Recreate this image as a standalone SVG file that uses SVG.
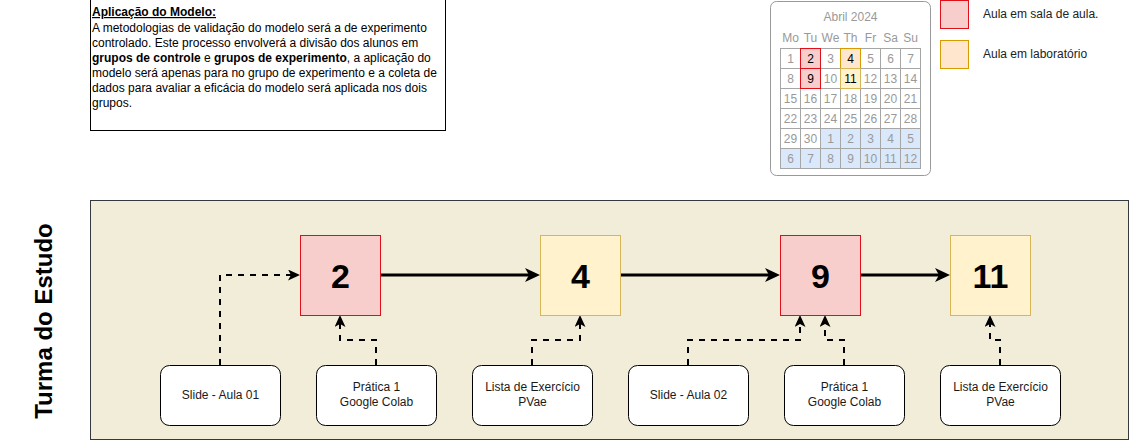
<svg xmlns="http://www.w3.org/2000/svg" width="1131" height="442" viewBox="0 0 1131 442">
  <style>
    .txt { font-family: "Liberation Sans", Arial, Helvetica, sans-serif; }
    .note { font-size: 12px; fill: #000; }
    .cal { font-size: 12px; fill: #999; text-anchor: middle; }
    .calDark { fill: #000; }
    .cell { fill: #fff; stroke: #a6a6a6; stroke-width: 1; }
    .next { fill: #dae8fc; stroke: #a6a6a6; stroke-width: 1; }
    .legend { font-size: 12px; fill: #222; }
    .day { stroke-width: 1; }
    .red { fill: #f8cecc; stroke: #e0101a; }
    .yellow { fill: #fff2cc; stroke: #d6b656; }
    .orange { fill: #ffe6cc; stroke: #d79b00; }
    .big { font-size: 34px; font-weight: bold; text-anchor: middle; fill: #000; }
    .res { fill: #fff; stroke: #000; stroke-width: 1; }
    .resText { font-size: 12px; text-anchor: middle; fill: #1a1a1a; }
    .flow { fill: none; stroke: #000; stroke-width: 3; marker-end: url(#arrowBig); }
    .link { fill: none; stroke: #000; stroke-width: 2; stroke-dasharray: 6 6; marker-end: url(#arrowSmall); }
  </style>
  <defs>
    <marker id="arrowBig" markerUnits="userSpaceOnUse" markerWidth="16" markerHeight="16" refX="4" refY="7" orient="auto">
      <path d="M0,0 L15,7 L0,14 L4,7 Z" fill="#000"/>
    </marker>
    <marker id="arrowSmall" markerUnits="userSpaceOnUse" markerWidth="14" markerHeight="14" refX="3" refY="5.5" orient="auto">
      <path d="M0,0 L12,5.5 L0,11 L3,5.5 Z" fill="#000"/>
    </marker>
  </defs>

  <rect width="1131" height="442" fill="#fff"/>

  <!-- Description note -->
  <g id="note" class="txt">
    <rect x="90.5" y="-0.5" width="355" height="131" fill="#fff" stroke="#000"/>
    <text class="note" x="92" y="16" font-weight="bold" text-decoration="underline">Aplicação do Modelo:</text>
    <text class="note" x="92" y="31.5">A metodologias de validação do modelo será a de experimento</text>
    <text class="note" x="92" y="46.5">controlado. Este processo envolverá a divisão dos alunos em</text>
    <text class="note" x="92" y="61.5"><tspan font-weight="bold">grupos de controle</tspan> e <tspan font-weight="bold">grupos de experimento</tspan>, a aplicação do</text>
    <text class="note" x="92" y="76.5">modelo será apenas para no grupo de experimento e a coleta de</text>
    <text class="note" x="92" y="91.5">dados para avaliar a eficácia do modelo será aplicada nos dois</text>
    <text class="note" x="92" y="106.5">grupos.</text>
  </g>

  <!-- Month calendar -->
  <g id="calendar" class="txt">
    <rect x="770.5" y="1.5" width="160" height="174" rx="6" fill="#fff" stroke="#999"/>
    <text class="cal" x="850.5" y="21">Abril 2024</text>
    <g class="cal">
      <text x="790.5" y="42">Mo</text><text x="810.5" y="42">Tu</text><text x="830.5" y="42">We</text>
      <text x="850.5" y="42">Th</text><text x="870.5" y="42">Fr</text><text x="890.5" y="42">Sa</text>
      <text x="910.5" y="42">Su</text>
    </g>
    <!-- rows 1-4: April -->
    <g>
      <rect class="cell" x="780.5" y="48.5" width="20" height="20"/><rect class="cell" x="800.5" y="48.5" width="20" height="20"/><rect class="cell" x="820.5" y="48.5" width="20" height="20"/><rect class="cell" x="840.5" y="48.5" width="20" height="20"/><rect class="cell" x="860.5" y="48.5" width="20" height="20"/><rect class="cell" x="880.5" y="48.5" width="20" height="20"/><rect class="cell" x="900.5" y="48.5" width="20" height="20"/>
      <rect class="cell" x="780.5" y="68.5" width="20" height="20"/><rect class="cell" x="800.5" y="68.5" width="20" height="20"/><rect class="cell" x="820.5" y="68.5" width="20" height="20"/><rect class="cell" x="840.5" y="68.5" width="20" height="20"/><rect class="cell" x="860.5" y="68.5" width="20" height="20"/><rect class="cell" x="880.5" y="68.5" width="20" height="20"/><rect class="cell" x="900.5" y="68.5" width="20" height="20"/>
      <rect class="cell" x="780.5" y="88.5" width="20" height="20"/><rect class="cell" x="800.5" y="88.5" width="20" height="20"/><rect class="cell" x="820.5" y="88.5" width="20" height="20"/><rect class="cell" x="840.5" y="88.5" width="20" height="20"/><rect class="cell" x="860.5" y="88.5" width="20" height="20"/><rect class="cell" x="880.5" y="88.5" width="20" height="20"/><rect class="cell" x="900.5" y="88.5" width="20" height="20"/>
      <rect class="cell" x="780.5" y="108.5" width="20" height="20"/><rect class="cell" x="800.5" y="108.5" width="20" height="20"/><rect class="cell" x="820.5" y="108.5" width="20" height="20"/><rect class="cell" x="840.5" y="108.5" width="20" height="20"/><rect class="cell" x="860.5" y="108.5" width="20" height="20"/><rect class="cell" x="880.5" y="108.5" width="20" height="20"/><rect class="cell" x="900.5" y="108.5" width="20" height="20"/>
      <rect class="cell" x="780.5" y="128.5" width="20" height="20"/><rect class="cell" x="800.5" y="128.5" width="20" height="20"/>
      <!-- May -->
      <rect class="next" x="820.5" y="128.5" width="20" height="20"/><rect class="next" x="840.5" y="128.5" width="20" height="20"/><rect class="next" x="860.5" y="128.5" width="20" height="20"/><rect class="next" x="880.5" y="128.5" width="20" height="20"/><rect class="next" x="900.5" y="128.5" width="20" height="20"/>
      <rect class="next" x="780.5" y="148.5" width="20" height="20"/><rect class="next" x="800.5" y="148.5" width="20" height="20"/><rect class="next" x="820.5" y="148.5" width="20" height="20"/><rect class="next" x="840.5" y="148.5" width="20" height="20"/><rect class="next" x="860.5" y="148.5" width="20" height="20"/><rect class="next" x="880.5" y="148.5" width="20" height="20"/><rect class="next" x="900.5" y="148.5" width="20" height="20"/>
    </g>
    <!-- class days -->
    <rect class="day red" x="800.5" y="48.5" width="20" height="20"/>
    <rect class="day red" x="800.5" y="68.5" width="20" height="20"/>
    <rect class="day orange" x="840.5" y="48.5" width="20" height="20"/>
    <rect class="day yellow" x="840.5" y="68.5" width="20" height="20"/>
    <g class="cal">
      <text x="790.5" y="63">1</text><text x="810.5" y="63" class="calDark">2</text><text x="830.5" y="63">3</text><text x="850.5" y="63" class="calDark">4</text><text x="870.5" y="63">5</text><text x="890.5" y="63">6</text><text x="910.5" y="63">7</text>
      <text x="790.5" y="83">8</text><text x="810.5" y="83" class="calDark">9</text><text x="830.5" y="83">10</text><text x="850.5" y="83" class="calDark">11</text><text x="870.5" y="83">12</text><text x="890.5" y="83">13</text><text x="910.5" y="83">14</text>
      <text x="790.5" y="103">15</text><text x="810.5" y="103">16</text><text x="830.5" y="103">17</text><text x="850.5" y="103">18</text><text x="870.5" y="103">19</text><text x="890.5" y="103">20</text><text x="910.5" y="103">21</text>
      <text x="790.5" y="123">22</text><text x="810.5" y="123">23</text><text x="830.5" y="123">24</text><text x="850.5" y="123">25</text><text x="870.5" y="123">26</text><text x="890.5" y="123">27</text><text x="910.5" y="123">28</text>
      <text x="790.5" y="143">29</text><text x="810.5" y="143">30</text><text x="830.5" y="143">1</text><text x="850.5" y="143">2</text><text x="870.5" y="143">3</text><text x="890.5" y="143">4</text><text x="910.5" y="143">5</text>
      <text x="790.5" y="163">6</text><text x="810.5" y="163">7</text><text x="830.5" y="163">8</text><text x="850.5" y="163">9</text><text x="870.5" y="163">10</text><text x="890.5" y="163">11</text><text x="910.5" y="163">12</text>
    </g>
  </g>

  <!-- Legend -->
  <g id="legend-sala" class="txt">
    <rect x="940.5" y="0.5" width="28" height="28" fill="#f8cecc" stroke="#e0101a"/>
    <text class="legend" x="983" y="18">Aula em sala de aula.</text>
  </g>
  <g id="legend-lab" class="txt">
    <rect x="940.5" y="40.5" width="28" height="28" fill="#ffe6cc" stroke="#d79b00"/>
    <text class="legend" x="983" y="58">Aula em laboratório</text>
  </g>

  <!-- Class lane -->
  <g id="lane" class="txt">
    <rect x="90.5" y="200.5" width="1038" height="239" fill="#f2edd8" stroke="#36393d"/>
    <text x="52" y="321" transform="rotate(-90 52 321)" font-size="24" font-weight="bold" text-anchor="middle" fill="#000">Turma do Estudo</text>
  </g>

  <!-- Connectors -->
  <g id="connectors">
    <path class="flow" d="M380,275 L529,275"/>
    <path class="flow" d="M620,275 L769,275"/>
    <path class="flow" d="M860,275 L939,275"/>
    <path class="link" d="M220,365 L220,275 L291,275"/>
    <path class="link" d="M376,365 L376,340 L340,340 L340,324"/>
    <path class="link" d="M532,365 L532,340 L580,340 L580,324"/>
    <path class="link" d="M688,365 L688,340 L800,340 L800,324"/>
    <path class="link" d="M844,365 L844,340 L825,340 L825,324"/>
    <path class="link" d="M1000,365 L1000,340 L990,340 L990,324"/>
  </g>

  <!-- Class days -->
  <g id="day-2" class="txt">
    <rect class="red" x="300.5" y="235.5" width="80" height="80"/>
    <text class="big" x="340.5" y="288">2</text>
  </g>
  <g id="day-4" class="txt">
    <rect class="yellow" x="540.5" y="235.5" width="80" height="80"/>
    <text class="big" x="580.5" y="288">4</text>
  </g>
  <g id="day-9" class="txt">
    <rect class="red" x="780.5" y="235.5" width="80" height="80"/>
    <text class="big" x="820.5" y="288">9</text>
  </g>
  <g id="day-11" class="txt">
    <rect class="yellow" x="950.5" y="235.5" width="80" height="80"/>
    <text class="big" x="990.5" y="288">11</text>
  </g>

  <!-- Resources -->
  <g id="slide-01" class="txt">
    <rect class="res" x="160.5" y="365.5" width="120" height="60" rx="9"/>
    <text class="resText" x="220.5" y="399">Slide - Aula 01</text>
  </g>
  <g id="pratica-1a" class="txt">
    <rect class="res" x="316.5" y="365.5" width="120" height="60" rx="9"/>
    <text class="resText" x="376.5" y="391">Prática 1</text>
    <text class="resText" x="376.5" y="406">Google Colab</text>
  </g>
  <g id="lista-1" class="txt">
    <rect class="res" x="472.5" y="365.5" width="120" height="60" rx="9"/>
    <text class="resText" x="532.5" y="391">Lista de Exercício</text>
    <text class="resText" x="532.5" y="406">PVae</text>
  </g>
  <g id="slide-02" class="txt">
    <rect class="res" x="628.5" y="365.5" width="120" height="60" rx="9"/>
    <text class="resText" x="688.5" y="399">Slide - Aula 02</text>
  </g>
  <g id="pratica-1b" class="txt">
    <rect class="res" x="784.5" y="365.5" width="120" height="60" rx="9"/>
    <text class="resText" x="844.5" y="391">Prática 1</text>
    <text class="resText" x="844.5" y="406">Google Colab</text>
  </g>
  <g id="lista-2" class="txt">
    <rect class="res" x="940.5" y="365.5" width="120" height="60" rx="9"/>
    <text class="resText" x="1000.5" y="391">Lista de Exercício</text>
    <text class="resText" x="1000.5" y="406">PVae</text>
  </g>
</svg>
